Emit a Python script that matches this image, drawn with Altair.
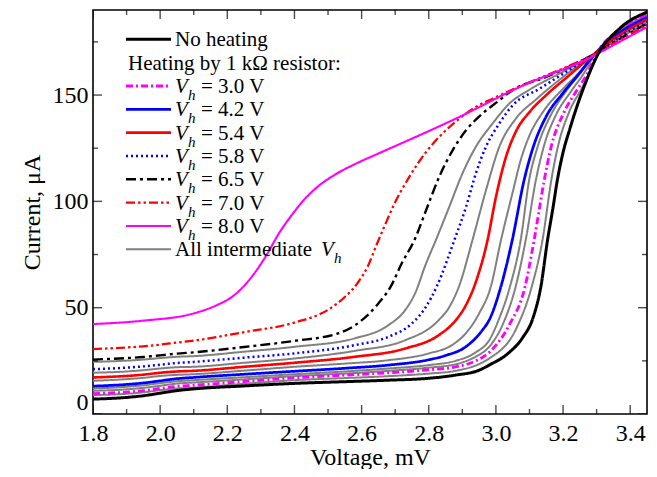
import altair as alt
import pandas as pd

FONT = "Liberation Serif"

# ---------------- curve data: voltage (mV) and current (uA) ----------------
nh_v = [1.8, 1.9, 1.95, 2.0, 2.05, 2.1, 2.25, 2.4, 2.55, 2.68, 2.8, 2.88, 2.95, 2.98, 3.04, 3.08, 3.11, 3.134, 3.154, 3.17, 3.183, 3.2, 3.22, 3.24, 3.27, 3.30, 3.37, 3.45]
nh_i = [7.0, 7.8, 8.6, 9.8, 11.0, 11.8, 13.2, 14.4, 15.2, 15.9, 16.8, 18.3, 20.6, 23.0, 29.0, 36.0, 45.0, 60.0, 82.0, 97.0, 110.0, 123.0, 134.0, 144.0, 157.0, 168.0, 181.5, 189.0]

v30_v = [1.8, 1.9, 1.95, 2.0, 2.05, 2.1, 2.25, 2.4, 2.55, 2.68, 2.8, 2.88, 2.94, 2.98, 3.04, 3.087, 3.114, 3.144, 3.165, 3.2, 3.24, 3.275, 3.295, 3.37, 3.45]
v30_i = [9.6, 10.3, 11.0, 12.0, 13.0, 13.5, 15.3, 17.0, 18.3, 19.4, 20.8, 22.2, 25.0, 29.0, 42.0, 60.0, 82.0, 110.0, 126.0, 141.0, 152.0, 161.0, 168.0, 181.0, 187.7]

g20_v = [1.8, 1.9, 1.95, 2.0, 2.05, 2.1, 2.25, 2.4, 2.55, 2.68, 2.8, 2.88, 2.95, 2.98, 3.06, 3.107, 3.139, 3.165, 3.185, 3.218, 3.255, 3.28, 3.30, 3.37, 3.45]
g20_i = [8.9, 9.5, 10.2, 11.2, 12.0, 12.4, 14.2, 15.9, 16.9, 17.8, 19.0, 20.3, 23.5, 26.1, 40.0, 60.0, 82.0, 110.0, 126.0, 142.0, 153.0, 161.0, 168.0, 181.5, 188.2]

g34_v = [1.8, 1.9, 1.95, 2.0, 2.05, 2.1, 2.25, 2.4, 2.55, 2.68, 2.8, 2.88, 2.94, 2.98, 3.02, 3.059, 3.089, 3.119, 3.143, 3.18, 3.225, 3.265, 3.29, 3.37, 3.45]
g34_i = [10.9, 11.6, 12.3, 13.3, 14.3, 14.8, 16.3, 17.8, 19.0, 20.3, 21.8, 23.4, 27.0, 31.6, 42.0, 60.0, 82.0, 110.0, 126.0, 141.0, 152.0, 161.0, 168.0, 180.5, 187.3]

g38_v = [1.8, 1.9, 1.95, 2.0, 2.05, 2.1, 2.25, 2.4, 2.55, 2.68, 2.8, 2.88, 2.94, 2.98, 3.01, 3.042, 3.074, 3.099, 3.125, 3.165, 3.21, 3.255, 3.29, 3.37, 3.45]
g38_i = [12.0, 12.8, 13.5, 14.5, 15.4, 15.9, 17.3, 18.7, 20.0, 21.4, 23.0, 25.0, 29.0, 34.7, 45.0, 60.0, 82.0, 110.0, 126.0, 141.0, 152.0, 161.0, 168.5, 180.0, 187.0]

v42_v = [1.8, 1.9, 1.95, 2.0, 2.05, 2.1, 2.25, 2.4, 2.55, 2.68, 2.8, 2.85, 2.91, 2.96, 2.98, 3.015, 3.049, 3.084, 3.11, 3.15, 3.2, 3.25, 3.29, 3.37, 3.45]
v42_i = [13.1, 13.9, 14.6, 15.6, 16.6, 17.2, 18.7, 20.1, 21.5, 23.0, 25.5, 27.5, 31.6, 39.5, 44.2, 60.0, 82.0, 110.0, 125.0, 140.0, 151.0, 160.5, 168.5, 179.5, 186.5]

g48_v = [1.8, 1.9, 1.95, 2.0, 2.05, 2.1, 2.25, 2.4, 2.55, 2.68, 2.8, 2.87, 2.91, 2.95, 2.985, 3.015, 3.049, 3.075, 3.10, 3.14, 3.2, 3.25, 3.29, 3.37, 3.45]
g48_i = [15.6, 16.4, 17.0, 17.9, 18.4, 18.7, 20.4, 22.2, 23.7, 25.3, 28.5, 32.5, 37.9, 47.3, 60.0, 81.7, 103.7, 120.0, 131.0, 142.0, 153.0, 161.0, 168.5, 179.0, 186.0]

v54_v = [1.8, 1.9, 1.95, 2.0, 2.05, 2.1, 2.25, 2.4, 2.58, 2.73, 2.83, 2.88, 2.91, 2.94, 2.975, 3.0, 3.03, 3.06, 3.10, 3.15, 3.22, 3.29, 3.37, 3.45]
v54_i = [17.2, 17.9, 18.5, 19.4, 20.0, 20.3, 22.2, 24.1, 26.9, 30.8, 37.1, 44.0, 51.0, 62.0, 81.7, 102.0, 120.9, 133.0, 142.0, 150.0, 159.5, 169.0, 178.5, 185.5]

g56_v = [1.8, 1.9, 1.95, 2.0, 2.05, 2.1, 2.25, 2.4, 2.58, 2.73, 2.83, 2.86, 2.89, 2.93, 2.97, 3.01, 3.06, 3.12, 3.2, 3.29, 3.37, 3.45]
g56_i = [19.4, 20.0, 20.6, 21.4, 22.0, 22.2, 24.1, 26.1, 29.7, 34.7, 44.2, 50.0, 60.0, 81.7, 105.0, 125.6, 139.0, 148.0, 158.5, 169.0, 178.0, 185.0]

v58_v = [1.8, 1.9, 1.95, 2.0, 2.05, 2.1, 2.25, 2.4, 2.58, 2.68, 2.75, 2.79, 2.824, 2.876, 2.911, 2.94, 2.97, 3.01, 3.049, 3.13, 3.2, 3.29, 3.37, 3.45]
v58_i = [21.1, 21.8, 22.4, 23.2, 24.0, 24.5, 26.5, 28.5, 32.4, 36.3, 42.6, 50.0, 60.0, 81.7, 97.4, 113.0, 125.6, 136.6, 145.0, 153.0, 160.0, 169.0, 177.5, 184.5]

g62_v = [1.8, 1.9, 1.95, 2.0, 2.05, 2.1, 2.25, 2.4, 2.58, 2.68, 2.73, 2.76, 2.79, 2.821, 2.861, 2.90, 2.94, 2.99, 3.04, 3.1, 3.2, 3.29, 3.37, 3.45]
g62_i = [24.5, 25.1, 25.6, 26.3, 26.9, 27.2, 29.3, 31.6, 35.6, 41.8, 48.9, 57.0, 70.0, 81.7, 97.4, 113.0, 125.6, 136.6, 146.0, 152.5, 161.0, 169.0, 177.0, 184.0]

v65_v = [1.8, 1.9, 1.95, 2.0, 2.05, 2.1, 2.25, 2.4, 2.53, 2.6, 2.65, 2.687, 2.72, 2.757, 2.792, 2.831, 2.871, 2.911, 2.96, 3.01, 3.049, 3.15, 3.22, 3.29, 3.37, 3.45]
v65_i = [25.6, 26.3, 26.8, 27.6, 28.4, 29.0, 31.5, 34.4, 37.9, 44.0, 52.0, 60.0, 71.0, 81.7, 95.8, 111.5, 124.0, 133.4, 141.3, 147.5, 152.3, 158.5, 163.5, 169.0, 176.5, 183.5]

v70_v = [1.8, 1.9, 1.95, 2.0, 2.05, 2.1, 2.25, 2.4, 2.5, 2.55, 2.59, 2.62, 2.643, 2.67, 2.692, 2.742, 2.792, 2.841, 2.891, 2.94, 2.99, 3.1, 3.2, 3.29, 3.37, 3.45]
v70_i = [30.5, 31.3, 31.8, 32.6, 33.6, 34.5, 38.5, 43.0, 49.0, 55.0, 62.0, 70.0, 79.0, 89.0, 97.0, 111.5, 123.2, 131.9, 138.9, 144.4, 148.3, 156.0, 162.5, 169.0, 176.0, 183.0]

v80_v = [1.8, 1.95, 2.1, 2.17, 2.215, 2.265, 2.314, 2.354, 2.394, 2.43, 2.47, 2.52, 2.58, 2.65, 2.7, 2.891, 3.06, 3.29, 3.37, 3.45]
v80_i = [42.3, 43.9, 47.3, 51.3, 55.2, 63.0, 74.0, 85.0, 94.0, 101.0, 107.0, 112.5, 117.5, 122.5, 126.0, 139.7, 153.0, 168.4, 175.2, 182.0]

# curve id, style key, drawing layer, voltages, currents
curves = [
    ("g20", "inter", "gray", g20_v, g20_i),
    ("g34", "inter", "gray", g34_v, g34_i),
    ("g38", "inter", "gray", g38_v, g38_i),
    ("g48", "inter", "gray", g48_v, g48_i),
    ("g56", "inter", "gray", g56_v, g56_i),
    ("g62", "inter", "gray", g62_v, g62_i),
    ("v30", "3.0", "color", v30_v, v30_i),
    ("v42", "4.2", "color", v42_v, v42_i),
    ("v54", "5.4", "color", v54_v, v54_i),
    ("v58", "5.8", "color", v58_v, v58_i),
    ("v65", "6.5", "color", v65_v, v65_i),
    ("v70", "7.0", "color", v70_v, v70_i),
    ("v80", "8.0", "color", v80_v, v80_i),
    ("nh", "No heating", "black", nh_v, nh_i),
]

# styles
style_keys = ["No heating", "3.0", "4.2", "5.4", "5.8", "6.5", "7.0", "8.0", "inter"]
style_colors = ["#000000", "#ff00ff", "#0000ff", "#ff0000", "#0000ff", "#000000", "#ff0000", "#ff00ff", "#808080"]
style_dashes = [[1, 0], [7, 3, 2, 3], [1, 0], [1, 0], [2, 3], [10, 4, 3, 4], [9, 3, 2.5, 3, 2.5, 3], [1, 0], [1, 0]]
style_widths = [3, 2, 2, 2, 2.6, 2, 2, 2, 1.6]

# legend
vh_labels = ["3.0", "4.2", "5.4", "5.8", "6.5", "7.0", "8.0"]
legend_line_styles = ["No heating", "3.0", "4.2", "5.4", "5.8", "6.5", "7.0", "8.0", "inter"]
legend_line_rows = [0, 2, 3, 4, 5, 6, 7, 8, 9]
header_text = "Heating by 1 k\u03a9 resistor:"

# axes ticks
x_major = [1.8, 2.0, 2.2, 2.4, 2.6, 2.8, 3.0, 3.2, 3.4]
x_minor = [1.9, 2.1, 2.3, 2.5, 2.7, 2.9, 3.1, 3.3]
y_major = [0, 50, 100, 150]
y_minor = [25, 75, 125, 175]

# ---------------- build tables ----------------
rows = []
for cid, style, layer, vs, cs in curves:
    for v, c in zip(vs, cs):
        rows.append({"curve": cid, "style": style, "layer": layer, "V": v, "I": c})
df = pd.DataFrame(rows)

W, H = 554, 404
xscale = alt.Scale(domain=[1.8, 3.45], nice=False, zero=False)
yscale = alt.Scale(domain=[0, 190], nice=False, zero=True)
lscale = alt.Scale(domain=[0, 9], range=[29.3, 239.3], nice=False, zero=False)

xaxis = alt.Axis(values=x_major, format=".1f", ticks=False, tickSize=0, domain=False, grid=False,
                 labelFont=FONT, labelFontSize=24, labelColor="black", labelPadding=7,
                 labelFlush=False, labelOverlap=False,
                 title="Voltage, mV", titleFont=FONT, titleFontSize=24, titleFontWeight="normal",
                 titleColor="black", titlePadding=0)
yaxis = alt.Axis(values=y_major, format="d", ticks=False, tickSize=0, domain=False, grid=False,
                 labelFont=FONT, labelFontSize=24, labelColor="black", labelPadding=5,
                 labelFlush=True, labelOverlap=False,
                 title="Current, \u03bcA", titleFont=FONT, titleFontSize=24, titleFontWeight="normal",
                 titleColor="black", titlePadding=8)

color_enc = alt.Color("style:N", scale=alt.Scale(domain=style_keys, range=style_colors), legend=None)
dash_enc = alt.StrokeDash("style:N", scale=alt.Scale(domain=style_keys, range=style_dashes), legend=None)
width_enc = alt.StrokeWidth("style:N", scale=alt.Scale(domain=style_keys, range=style_widths), legend=None)


def curve_layer(layer_name, with_axis):
    d = df[df["layer"] == layer_name]
    return alt.Chart(d).mark_line(interpolate="monotone", clip=True).encode(
        x=alt.X("V:Q", scale=xscale, axis=xaxis),
        y=alt.Y("I:Q", scale=yscale, axis=yaxis if with_axis else None),
        color=color_enc, strokeDash=dash_enc, strokeWidth=width_enc,
        detail="curve:N",
    )


gray = curve_layer("gray", True)
colored = curve_layer("color", False)
black = curve_layer("black", False)

# inward ticks
xt = pd.DataFrame({"value": x_major + x_minor, "len": [18] * len(x_major) + [10] * len(x_minor)})
yt = pd.DataFrame({"value": y_major + y_minor, "len": [18] * len(y_major) + [10] * len(y_minor)})
tick_kw = dict(clip=True, color="black", thickness=1.4)
x_bottom = alt.Chart(xt).mark_tick(orient="vertical", **tick_kw).encode(
    x=alt.X("value:Q", scale=xscale, axis=xaxis), y=alt.value(H),
    size=alt.Size("len:Q", scale=None, legend=None))
x_top = alt.Chart(xt).mark_tick(orient="vertical", **tick_kw).encode(
    x=alt.X("value:Q", scale=xscale, axis=xaxis), y=alt.value(0),
    size=alt.Size("len:Q", scale=None, legend=None))
y_left = alt.Chart(yt).mark_tick(orient="horizontal", **tick_kw).encode(
    y=alt.Y("value:Q", scale=yscale, axis=None), x=alt.value(0),
    size=alt.Size("len:Q", scale=None, legend=None))
y_right = alt.Chart(yt).mark_tick(orient="horizontal", **tick_kw).encode(
    y=alt.Y("value:Q", scale=yscale, axis=None), x=alt.value(W),
    size=alt.Size("len:Q", scale=None, legend=None))

# legend (drawn inside the plot)
leg_lines_df = pd.DataFrame({"row": legend_line_rows, "style": legend_line_styles})
leg_lines = alt.Chart(leg_lines_df).mark_rule().encode(
    x=alt.value(33), x2=alt.value(78),
    y=alt.Y("row:Q", scale=lscale, axis=None),
    color=color_enc, strokeDash=dash_enc, strokeWidth=width_enc)

txt = dict(align="left", baseline="middle", font=FONT, color="black")
plain_df = pd.DataFrame({"row": [0, 9], "text": ["No heating", "All intermediate"]})
plain = alt.Chart(plain_df).mark_text(fontSize=21, dy=1, **txt).encode(
    x=alt.value(82), y=alt.Y("row:Q", scale=lscale, axis=None), text="text:N")
header_df = pd.DataFrame({"row": [1], "text": [header_text]})
header = alt.Chart(header_df).mark_text(fontSize=21, dy=1, **txt).encode(
    x=alt.value(35), y=alt.Y("row:Q", scale=lscale, axis=None), text="text:N")

vh_df = pd.DataFrame({"row": list(range(2, 9)), "V": ["V"] * 7, "h": ["h"] * 7,
                      "eq": ["= " + s + " V" for s in vh_labels]})
v_it = alt.Chart(vh_df).mark_text(fontSize=21, fontStyle="italic", dy=1, **txt).encode(
    x=alt.value(82), y=alt.Y("row:Q", scale=lscale, axis=None), text="V:N")
h_it = alt.Chart(vh_df).mark_text(fontSize=15, fontStyle="italic", dy=9, **txt).encode(
    x=alt.value(95), y=alt.Y("row:Q", scale=lscale, axis=None), text="h:N")
eq = alt.Chart(vh_df).mark_text(fontSize=21, dy=1, **txt).encode(
    x=alt.value(108), y=alt.Y("row:Q", scale=lscale, axis=None), text="eq:N")

last_df = pd.DataFrame({"row": [9], "V": ["V"], "h": ["h"]})
v_last = alt.Chart(last_df).mark_text(fontSize=21, fontStyle="italic", dy=1, **txt).encode(
    x=alt.value(228), y=alt.Y("row:Q", scale=lscale, axis=None), text="V:N")
h_last = alt.Chart(last_df).mark_text(fontSize=15, fontStyle="italic", dy=9, **txt).encode(
    x=alt.value(241), y=alt.Y("row:Q", scale=lscale, axis=None), text="h:N")

chart = alt.layer(
    gray, colored, black,
    x_bottom, x_top, y_left, y_right,
    leg_lines, plain, header, v_it, h_it, eq, v_last, h_last,
).resolve_scale(y="independent").properties(
    width=W, height=H,
    autosize=alt.AutoSizeParams(type="none"),
    padding={"left": 85, "top": 2, "right": 1, "bottom": 55},
    background="white",
).configure_view(stroke="black", strokeWidth=1.6)

chart.save("out.html", embed_options={"renderer": "svg", "actions": False})
